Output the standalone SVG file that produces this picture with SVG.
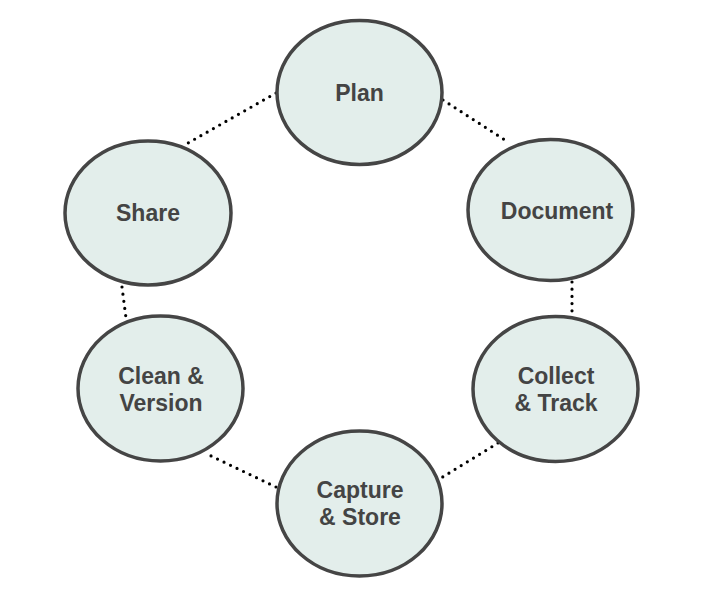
<svg xmlns="http://www.w3.org/2000/svg" width="703" height="599" viewBox="0 0 703 599">
<style>
.node ellipse{fill:#e3eeeb;stroke:#454545;stroke-width:3.5}
.node text{font-family:"Liberation Sans",Arial,sans-serif;font-weight:bold;font-size:23px;fill:#444444;text-anchor:middle}
.conn line{stroke:#000;stroke-width:3.2;stroke-linecap:round;stroke-dasharray:0 7.2}
</style>
<rect width="703" height="599" fill="#ffffff"/>
<g id="connectors" class="conn">
<line x1="276" y1="93" x2="188" y2="143"/>
<line x1="443" y1="100" x2="508" y2="142"/>
<line x1="572" y1="282" x2="572" y2="315"/>
<line x1="498" y1="443" x2="441" y2="478"/>
<line x1="276" y1="487" x2="209" y2="455"/>
<line x1="122" y1="287" x2="126" y2="318"/>
</g>
<g id="plan" class="node">
<ellipse cx="359.5" cy="92.5" rx="82.5" ry="72"/>
<text x="359.5" y="100.5">Plan</text>
</g>
<g id="document" class="node">
<ellipse cx="550.5" cy="210" rx="82.5" ry="70.5"/>
<text x="557" y="218.5">Document</text>
</g>
<g id="share" class="node">
<ellipse cx="148" cy="213" rx="83" ry="72"/>
<text x="148" y="221">Share</text>
</g>
<g id="clean-version" class="node">
<ellipse cx="160.5" cy="388.5" rx="82.5" ry="72.5"/>
<text x="161" y="383.5">Clean &amp;</text>
<text x="161" y="410.5">Version</text>
</g>
<g id="collect-track" class="node">
<ellipse cx="555.5" cy="389" rx="82.5" ry="72.5"/>
<text x="556" y="383.5">Collect</text>
<text x="556" y="410.5">&amp; Track</text>
</g>
<g id="capture-store" class="node">
<ellipse cx="359.5" cy="503.5" rx="82.5" ry="72.5"/>
<text x="360" y="497.5">Capture</text>
<text x="360" y="524.5">&amp; Store</text>
</g>
</svg>
